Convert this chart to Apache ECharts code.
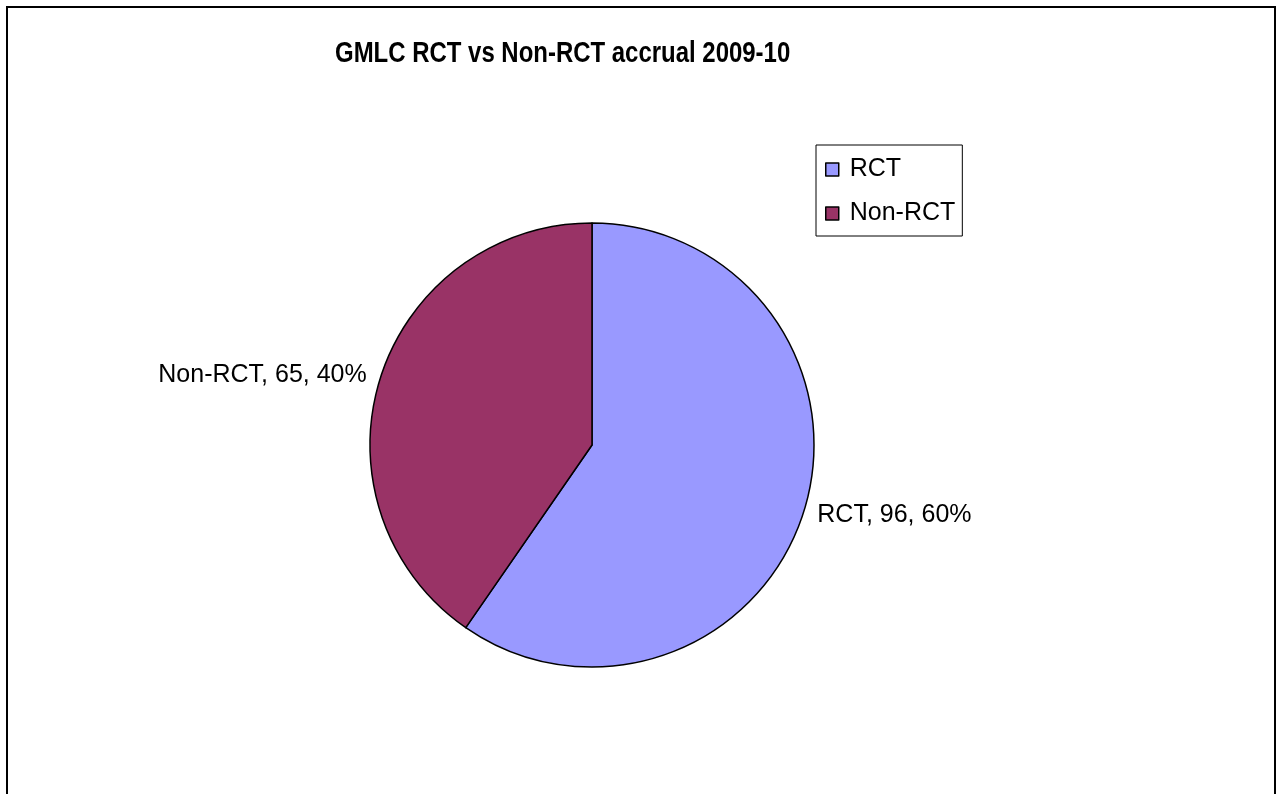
<!DOCTYPE html>
<html>
<head>
<meta charset="utf-8">
<script src="https://cdn.jsdelivr.net/npm/echarts@6/dist/echarts.min.js"></script>
<style>
html,body{margin:0;padding:0;background:#fff;}
#chart{width:1277px;height:794px;}
</style>
</head>
<body>
<div id="chart"></div>
<script>
const titleText = 'GMLC RCT vs Non-RCT accrual 2009-10';
const categories = ['RCT', 'Non-RCT'];
const values = [96, 65];
const percents = ['60%', '40%'];
const colors = ['#9999FF', '#993366'];

const chart = echarts.init(document.getElementById('chart'), null, {renderer: 'canvas'});
const data = categories.map((c, i) => ({
  name: c,
  value: values[i],
  pct: percents[i],
  itemStyle: {color: colors[i]}
}));

const option = {
  backgroundColor: '#fff',
  animation: false,
  legend: {
    orient: 'vertical',
    left: 816,
    top: 145,
    padding: [12, 7, 10, 9],
    borderColor: '#000',
    borderWidth: 1,
    itemWidth: 13,
    itemHeight: 13,
    itemGap: 19,
    icon: 'rect',
    itemStyle: {borderColor: '#000', borderWidth: 1.5},
    textStyle: {
      fontFamily: '"Liberation Sans", Arial, sans-serif',
      fontSize: 25,
      color: '#000',
      padding: [2, 0, 0, 6]
    },
    data: categories
  },
  graphic: [{
    type: 'rect',
    shape: {x: 7, y: 7, width: 1268, height: 800},
    style: {fill: 'none', stroke: '#000', lineWidth: 2},
    silent: true
  }, {
    type: 'text',
    x: 335,
    y: 39,
    scaleX: 0.826,
    silent: true,
    style: {
      text: titleText,
      font: 'bold 29px "Liberation Sans", Arial, sans-serif',
      fill: '#000',
      textAlign: 'left',
      textVerticalAlign: 'top'
    }
  }],
  series: [{
    type: 'pie',
    center: [592, 445],
    radius: 222,
    startAngle: 90,
    clockwise: true,
    data: data,
    itemStyle: {borderColor: '#000', borderWidth: 1.5},
    label: {
      show: true,
      position: 'outside',
      distanceToLabelLine: 0,
      formatter: p => p.name + ', ' + p.value + ', ' + p.data.pct,
      fontFamily: '"Liberation Sans", Arial, sans-serif',
      fontSize: 25,
      color: '#000'
    },
    labelLine: {show: false, length: 14, length2: 0},
    emphasis: {disabled: true}
  }]
};
chart.setOption(option);
</script>
</body>
</html>
